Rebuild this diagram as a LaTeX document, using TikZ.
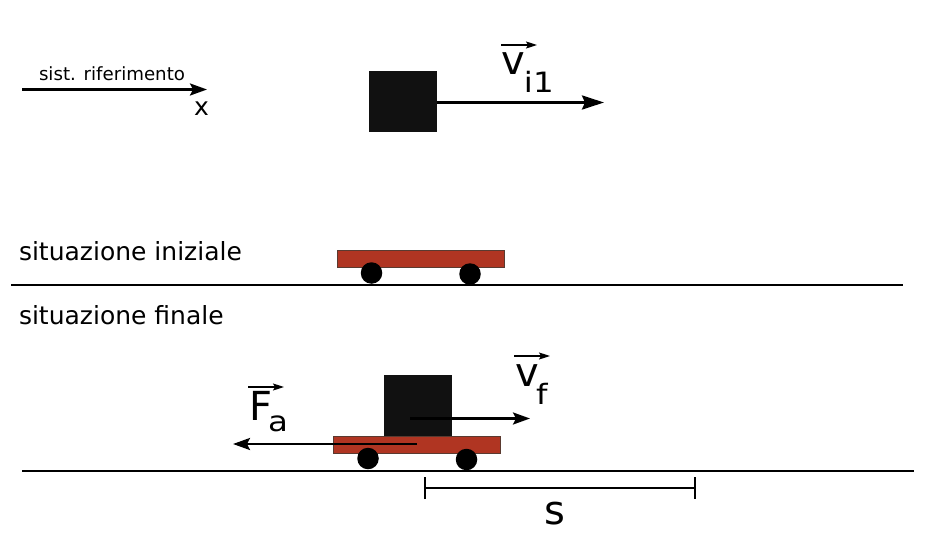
\documentclass[tikz,border=0pt]{standalone}
\usepackage{fontspec}
\setmainfont{DejaVu Sans}
\usetikzlibrary{arrows.meta}
\definecolor{blockc}{HTML}{111111}
\definecolor{cartc}{HTML}{B03522}
\definecolor{cartedge}{HTML}{5A3A30}
\newcommand{\subtext}[2]{\raisebox{#1}{\fontsize{28}{32}\selectfont\scalebox{1.16}[1]{#2}}}
\tikzset{
  x=1pt,y=-1pt,
  every node/.style={inner sep=0pt,outer sep=0pt,text=black},
  blockbox/.style={fill=blockc,draw=none,anchor=north west},
  cartbox/.style={fill=cartc,draw=cartedge,line width=.7pt,anchor=north west,minimum width=166.5pt,minimum height=17pt},
  wheel/.style={circle,fill=black,minimum width=20.5pt,minimum height=21.5pt},
  ground/.style={line width=2pt},
  bigarrow/.style={line width=2.8pt,-{Stealth[length=22pt,width=14pt,inset=3pt]}},
  midarrow/.style={line width=2.4pt,-{Stealth[length=17pt,width=12pt,inset=3pt]}},
  overarrow/.style={line width=1.2pt,-{Stealth[length=11pt,width=7pt,inset=2pt]}},
  dimline/.style={line width=2pt},
  plain/.style={font=\fontsize{25}{28}\selectfont,anchor=base west},
  biglabel/.style={font=\fontsize{40}{44}\selectfont,anchor=base west},
}
\begin{document}
\begin{tikzpicture}
\useasboundingbox (0,0) rectangle (933,532);
% reference frame
\coordinate (ra) at (22,89.5);
\coordinate (rb) at (207,89.5);
\draw[midarrow] (ra) -- (rb);
\node[anchor=base west,font=\fontsize{18.2}{20}\selectfont] (rlabel) at (39,81) {sist. riferimento};
\node[plain] (xlabel) at (194,116) {x};
% initial block
\node[blockbox,minimum width=68pt,minimum height=61pt] (b1) at (369,71) {};
\coordinate (v1e) at (604,102.5);
\draw[bigarrow] (b1.east |- v1e) -- (v1e);
\coordinate (o1a) at (501,45);
\coordinate (o1b) at (537,45);
\draw[overarrow] (o1a) -- (o1b);
\node[biglabel] (v1) at (501,75) {v\kern-0.7pt\subtext{-18pt}{i1}};
% labels and divider
\node[plain] (si) at (19,260) {situazione iniziale};
\coordinate (g1a) at (11,285);
\coordinate (g1b) at (903,285);
\draw[ground] (g1a) -- (g1b);
\node[plain] (sf) at (19,324) {situazione finale};
% first cart
\node[cartbox] (c1) at (337.5,250.5) {};
\node[wheel] (w1a) at (371.5,273) {};
\node[wheel] (w1b) at (470,274) {};
% second ground and cart
\coordinate (g2a) at (22,471);
\coordinate (g2b) at (914,471);
\draw[ground] (g2a) -- (g2b);
\node[blockbox,minimum width=68pt,minimum height=61pt] (b2) at (384,375) {};
\node[cartbox] (c2) at (333.5,436) {};
\node[wheel] (w2a) at (368,458.5) {};
\node[wheel] (w2b) at (466.5,459.5) {};
% velocity and friction
\coordinate (vfa) at (410,418.5);
\coordinate (vfb) at (530,418.5);
\draw[midarrow] (vfa) -- (vfb);
\coordinate (fa) at (417,444);
\coordinate (fb) at (233,444);
\draw[midarrow] (fa) -- (fb);
\coordinate (o2a) at (514,356);
\coordinate (o2b) at (550,356);
\draw[overarrow] (o2a) -- (o2b);
\node[biglabel] (vf) at (515,386) {v\kern-2.5pt\subtext{-18pt}{f}};
\coordinate (o3a) at (248,387);
\coordinate (o3b) at (284,387);
\draw[overarrow] (o3a) -- (o3b);
\node[biglabel] (F) at (249,420) {F\kern-4pt\subtext{-11pt}{a}};
% displacement
\coordinate (sa) at (424,488);
\coordinate (sb) at (696,488);
\draw[dimline,{Bar[width=22pt,line width=2pt]}-{Bar[width=22pt,line width=2pt]}] (sa) -- (sb);
\node[biglabel] (s) at (544,524) {s};
\end{tikzpicture}
\end{document}
